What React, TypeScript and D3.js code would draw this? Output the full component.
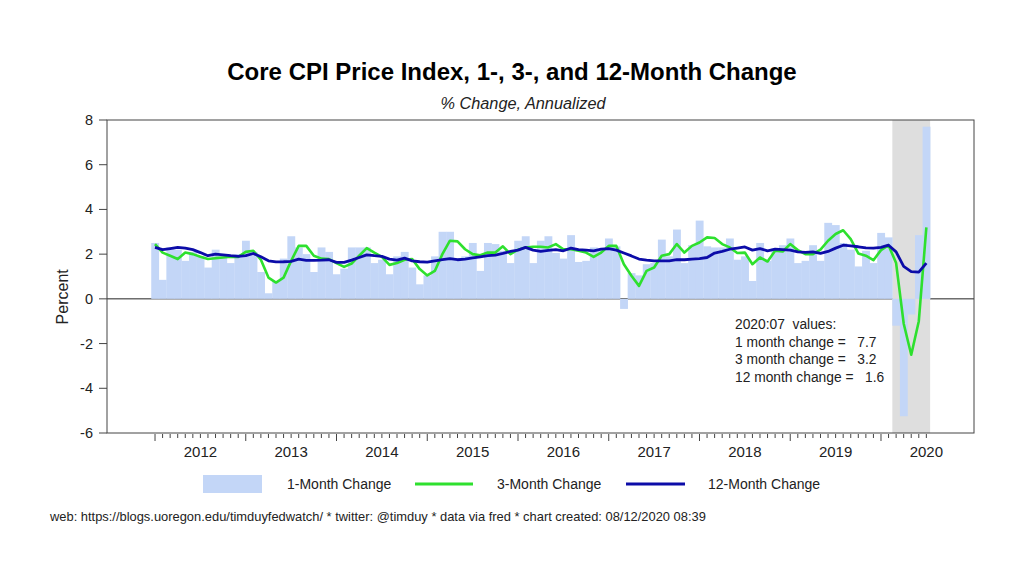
import React from "react";
import * as d3 from "d3";

// Monthly data, Jan 2012 .. Jul 2020 (annualized % change)
const oneMonth = [
  2.5, 0.85, 2.3, 2.2, 1.7, 2.1, 1.9, 1.4, 2.2, 2.0, 1.6, 2.0,
  2.6, 2.1, 1.2, 0.25, 0.8, 1.8, 2.8, 2.3, 2.0, 1.2, 2.3, 2.1,
  1.1, 1.35, 2.3, 2.3, 2.3, 1.6, 1.75, 1.1, 1.9, 2.1, 1.4, 0.65,
  1.05, 1.9, 3.0, 3.0, 1.8, 1.9, 2.5, 1.25, 2.5, 2.45, 2.15, 1.6,
  2.6, 2.8, 1.6, 2.6, 2.8, 2.05, 1.8, 2.85, 1.65, 1.7, 2.3, 2.2,
  2.7, 2.35, -0.45, 1.15, 1.05, 1.55, 1.6, 2.65, 1.9, 3.1, 1.6, 2.4,
  3.5, 2.35, 2.3, 2.3, 2.7, 1.75, 1.9, 0.8, 2.5, 1.7, 2.25, 2.4,
  2.7, 1.6, 1.7, 2.4, 1.7, 3.4, 3.3, 2.5, 2.2, 1.45, 2.15, 1.6,
  2.95, 2.75, -1.2, -5.25, -0.7, 2.85, 7.7,
];
const threeMonth = [
  2.45, 2.07, 1.93, 1.78, 2.07, 2.0, 1.88, 1.78, 1.82, 1.85, 1.88, 1.88,
  2.1, 2.15, 1.75, 0.95, 0.73, 0.95, 1.7, 2.37, 2.37, 1.93, 1.8, 1.78,
  1.6, 1.43, 1.58, 1.93, 2.27, 2.07, 1.88, 1.52, 1.6, 1.75, 1.78, 1.33,
  1.05, 1.25, 2.0, 2.6, 2.57, 2.22, 2.0, 1.95, 2.07, 2.07, 2.35, 2.0,
  2.2, 2.3, 2.33, 2.33, 2.3, 2.45, 2.22, 2.22, 2.15, 2.07, 1.88, 2.07,
  2.37, 2.37, 1.55, 1.03, 0.58, 1.25, 1.4, 1.93, 2.0, 2.45, 2.07, 2.37,
  2.52, 2.75, 2.72, 2.45, 2.3, 2.05, 2.07, 1.55, 1.85, 1.67, 2.15, 2.12,
  2.45, 2.18, 2.0, 2.0, 2.2, 2.6, 2.9, 3.07, 2.67, 2.03, 1.93, 1.73,
  2.18, 2.4, 1.6, -1.1, -2.5, -1.0, 3.2,
];
const twelveMonth = [
  2.3, 2.2, 2.25, 2.3, 2.27, 2.2, 2.07, 1.93, 2.0, 1.97, 1.93, 1.9,
  1.93, 2.03, 1.88, 1.7, 1.65, 1.66, 1.68, 1.78, 1.72, 1.72, 1.73, 1.75,
  1.63, 1.63, 1.73, 1.85, 1.97, 1.93, 1.9, 1.78, 1.73, 1.82, 1.7, 1.66,
  1.64, 1.7, 1.75, 1.8, 1.75, 1.78, 1.83, 1.88, 1.93, 1.96, 2.03, 2.12,
  2.18, 2.3, 2.18, 2.12, 2.17, 2.2, 2.15, 2.27, 2.2, 2.18, 2.15, 2.22,
  2.25, 2.18, 2.05, 1.92, 1.78, 1.73, 1.7, 1.7, 1.7, 1.75, 1.75, 1.78,
  1.8, 1.85, 2.05, 2.12, 2.22, 2.27, 2.32, 2.18, 2.25, 2.15, 2.22, 2.2,
  2.18, 2.1, 2.08, 2.1, 2.03, 2.12, 2.27, 2.4, 2.37, 2.33, 2.28, 2.27,
  2.3, 2.4, 2.1, 1.45, 1.22, 1.2, 1.6,
];
const yearLabels = ["2012", "2013", "2014", "2015", "2016", "2017", "2018", "2019", "2020"];
const yTicks = [-6, -4, -2, 0, 2, 4, 6, 8];
// recession shading: Mar 2020 .. Jul 2020 (month indexes)
const shadeStart = 98;
const shadeEnd = 102;
const noteLines = [
  "2020:07  values:",
  "1 month change =   7.7",
  "3 month change =   3.2",
  "12 month change =   1.6",
];

const FONT = "'Liberation Sans', Arial, Helvetica, sans-serif";
const BAR = "#c3d6f7";
const GREEN = "#2ee02e";
const NAVY = "#0c0ca8";

export default function App() {
  const L = 107, R = 974, T = 120, B = 433;
  const x = d3.scaleLinear().domain([-6.35, 108.3]).range([L, R]);
  const y = d3.scaleLinear().domain([-6, 8]).range([B, T]);
  const bw = x(1) - x(0);
  const idx = oneMonth.map((_, i) => i);
  const line = d3
    .line<number>()
    .x((_, i) => x(i))
    .y((d) => y(d));
  const nMonths = oneMonth.length;

  return (
    <svg
      width={1024}
      height={576}
      style={{ position: "absolute", left: 0, top: 0, background: "#fff" }}
      fontFamily={FONT}
    >
      <rect x={0} y={0} width={1024} height={576} fill="#fff" />
      <text x={512} y={80} textAnchor="middle" fontSize={24} fontWeight="bold" fill="#000">
        Core CPI Price Index, 1-, 3-, and 12-Month Change
      </text>
      <text x={523} y={109} textAnchor="middle" fontSize={16.3} fontStyle="italic" fill="#222">
        % Change, Annualized
      </text>

      {/* zero line */}
      <line x1={L} x2={R} y1={y(0)} y2={y(0)} stroke="#222" strokeWidth={1} />
      {/* shade */}
      <rect
        x={x(shadeStart - 0.5)}
        y={T}
        width={x(shadeEnd + 0.5) - x(shadeStart - 0.5)}
        height={B - T}
        fill="#dedede"
      />
      {/* bars */}
      {idx.map((i) => (
        <rect
          key={i}
          x={x(i) - bw / 2}
          width={bw + 0.3}
          y={Math.min(y(oneMonth[i]), y(0))}
          height={Math.abs(y(oneMonth[i]) - y(0))}
          fill={BAR}
        />
      ))}
      <path d={line(threeMonth) || ""} fill="none" stroke={GREEN} strokeWidth={2.6} strokeLinejoin="round" />
      <path d={line(twelveMonth) || ""} fill="none" stroke={NAVY} strokeWidth={2.8} strokeLinejoin="round" />

      {/* frame */}
      <rect x={L} y={T} width={R - L} height={B - T} fill="none" stroke="#444" strokeWidth={1} />

      {/* y axis */}
      {yTicks.map((t) => (
        <g key={t}>
          <line x1={L - 8} x2={L} y1={y(t)} y2={y(t)} stroke="#444" />
          <text x={L - 14} y={y(t) + 5} textAnchor="end" fontSize={14.5} fill="#222">
            {t}
          </text>
        </g>
      ))}
      <text
        transform={`translate(68,${y(0) - 2}) rotate(-90)`}
        textAnchor="middle"
        fontSize={16}
        fill="#222"
      >
        Percent
      </text>

      {/* x axis ticks */}
      {idx.map((i) => {
        const major = i % 12 === 0;
        return (
          <line
            key={i}
            x1={x(i)}
            x2={x(i)}
            y1={B + 1}
            y2={B + (major ? 8 : 5)}
            stroke="#444"
            strokeWidth={1}
          />
        );
      })}
      {yearLabels.map((lab, k) => {
        const m = Math.min(k * 12 + 6, nMonths - 1);
        return (
          <text key={lab} x={x(m)} y={457} textAnchor="middle" fontSize={15} fill="#222">
            {lab}
          </text>
        );
      })}

      {/* annotation */}
      {noteLines.map((s, k) => (
        <text
          key={k}
          x={735}
          y={329 + k * 17.6}
          fontSize={13.8}
          fill="#222"
          style={{ whiteSpace: "pre" }}
        >
          {s}
        </text>
      ))}

      {/* legend */}
      <rect x={203} y={475} width={59} height={18} fill={BAR} />
      <text x={287} y={489} fontSize={14} fill="#222">1-Month Change</text>
      <line x1={415} x2={473} y1={484} y2={484} stroke={GREEN} strokeWidth={3} />
      <text x={497} y={489} fontSize={14} fill="#222">3-Month Change</text>
      <line x1={626} x2={685} y1={484} y2={484} stroke={NAVY} strokeWidth={3} />
      <text x={708} y={489} fontSize={14} fill="#222">12-Month Change</text>

      {/* footer */}
      <text x={50} y={521} fontSize={12.9} fill="#222">
        web: https://blogs.uoregon.edu/timduyfedwatch/ * twitter: @timduy * data via fred * chart created: 08/12/2020 08:39
      </text>
    </svg>
  );
}
